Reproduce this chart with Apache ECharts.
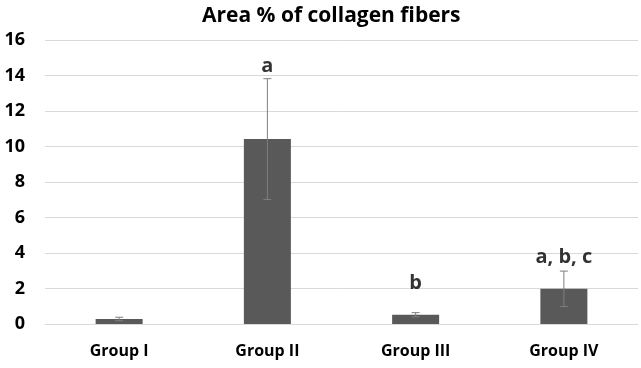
<!DOCTYPE html>
<html>
<head>
<meta charset="utf-8">
<script src="https://cdn.jsdelivr.net/npm/echarts@6/dist/echarts.min.js"></script>
<style>
  html, body { margin: 0; padding: 0; background: #ffffff; }
  #chart { width: 641px; height: 368px; }
</style>
</head>
<body>
<div id="chart"></div>
<script>
// data
const groups = ["Group I", "Group II", "Group III", "Group IV"];
const areaMeans = [0.28, 10.42, 0.52, 1.98];
const areaSD = [0.1, 3.4, 0.12, 1.0];
const sigLetters = ["", "a", "b", "a, b, c"];
const sigLabelY = [null, 14.5, 2.27, 3.74];
const yTicks = { min: 0, max: 16, interval: 2 };

const chart = echarts.init(document.getElementById("chart"), null, { renderer: "canvas" });

const font = "'Open Sans', 'Liberation Sans', sans-serif";

// error bars: vertical line with caps
const errData = groups.map((g, i) => [i, areaMeans[i] - areaSD[i], areaMeans[i] + areaSD[i]]);
const renderError = (params, api) => {
  const x = api.value(0);
  const lo = api.coord([x, api.value(1)]);
  const hi = api.coord([x, api.value(2)]);
  const half = 4;
  const style = { stroke: "#7f7f7f", lineWidth: 1 };
  return {
    type: "group",
    children: [
      { type: "line", shape: { x1: hi[0], y1: hi[1], x2: lo[0], y2: lo[1] }, style },
      { type: "line", shape: { x1: hi[0] - half, y1: hi[1], x2: hi[0] + half, y2: hi[1] }, style },
      { type: "line", shape: { x1: lo[0] - half, y1: lo[1], x2: lo[0] + half, y2: lo[1] }, style },
    ],
  };
};

// letters above the bars
const letterData = groups
  .map((g, i) => ({ value: [i, sigLabelY[i]], label: sigLetters[i] }))
  .filter((d) => d.label);

const option = {
  animation: false,
  title: {
    text: "Area % of collagen fibers",
    left: 197,
    top: 1,
    textStyle: { fontFamily: font, fontSize: 21, fontWeight: "bold", color: "#000000" },
  },
  grid: { left: 45, right: 3, top: 40, bottom: 44 },
  xAxis: {
    type: "category",
    data: groups,
    axisLine: { show: false },
    axisTick: { show: false },
    axisLabel: { fontFamily: font, fontSize: 16, fontWeight: "bold", color: "#000000", margin: 19 },
  },
  yAxis: {
    type: "value",
    min: yTicks.min,
    max: yTicks.max,
    interval: yTicks.interval,
    axisLine: { show: false },
    axisTick: { show: false },
    axisLabel: { fontFamily: font, fontSize: 18, fontWeight: "bold", color: "#000000", margin: 20 },
    splitLine: { lineStyle: { color: "#d9d9d9", width: 1 } },
  },
  series: [
    {
      type: "bar",
      data: areaMeans,
      barWidth: 47,
      itemStyle: { color: "#595959" },
    },
    {
      type: "custom",
      renderItem: renderError,
      data: errData,
      z: 5,
    },
    {
      type: "scatter",
      symbolSize: 0,
      data: letterData.map((d) => d.value),
      label: {
        show: true,
        position: "inside",
        formatter: (p) => letterData[p.dataIndex].label,
        fontFamily: font,
        fontSize: 20,
        fontWeight: "bold",
        color: "#000000",
      },
      z: 6,
    },
  ],
};

chart.setOption(option);
</script>
</body>
</html>
